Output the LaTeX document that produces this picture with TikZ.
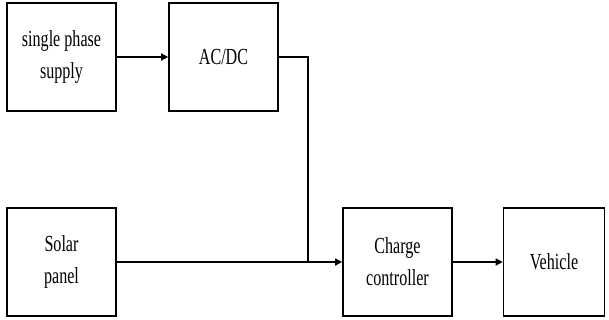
\documentclass[tikz,border=0pt]{standalone}
\usepackage{fontspec}
\setmainfont{Liberation Serif}[FakeStretch=0.70]
\usetikzlibrary{arrows.meta}
\begin{document}
\begin{tikzpicture}[x=1pt,y=-1pt,
  blk/.style={draw, line width=1.6pt, minimum width=109pt, minimum height=108pt, inner sep=0pt, align=center, font=\fontsize{23}{32}\selectfont},
  conn/.style={line width=1.3pt},
  arr/.style={conn, -{Triangle[length=7pt,width=7pt]}}]
\useasboundingbox (0,0) rectangle (609,320);
\node[blk] (sps) at (61.5,57) {single phase\\supply};
\node[blk] (acdc) at (223.5,57) {AC/DC};
\node[blk] (solar) at (61.5,262) {Solar\\panel};
\node[blk] (cc) at (397.5,262) {Charge\\controller};
\node[blk, minimum width=101pt] (veh) at (554,262) {Vehicle};
\coordinate (j1) at (308,57);
\coordinate (j2) at (308,262);
\draw[arr] (sps) -- (acdc);
\draw[conn] (acdc.east) -- (j1) -- (j2);
\draw[arr] (solar) -- (cc);
\draw[arr] (cc) -- (veh);
\end{tikzpicture}
\end{document}
